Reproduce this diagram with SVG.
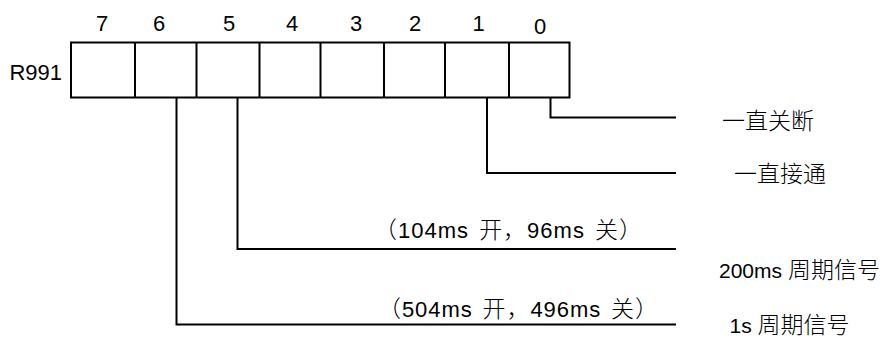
<svg xmlns="http://www.w3.org/2000/svg" width="892" height="338" viewBox="0 0 892 338">
<style>
  .ln { fill: none; stroke: #000; stroke-width: 2; }
  .t { font-family: "Liberation Sans", "Noto Sans CJK SC", sans-serif; font-size: 22px; fill: #000; }
  .s { font-family: "Liberation Sans", "Noto Sans CJK SC", sans-serif; font-size: 21px; fill: #000; }
  .p { font-size: 22px; word-spacing: 3px; }
  .c { font-family: "Noto Sans CJK SC", sans-serif; font-size: 23px; fill: #000; font-weight: 300; }
  .mid { text-anchor: middle; }
</style>
<rect width="892" height="338" fill="#fff"/>
<g id="register">
  <rect class="ln" x="71" y="42.5" width="498.5" height="55"/>
  <path class="ln" d="M135,42.5V97.5 M196.5,42.5V97.5 M259.5,42.5V97.5 M320.5,42.5V97.5 M384,42.5V97.5 M445,42.5V97.5 M509,42.5V97.5"/>
  <text class="t" x="62" y="80" text-anchor="end">R991</text>
  <text class="t mid" x="102" y="31">7</text>
  <text class="t mid" x="159" y="31">6</text>
  <text class="t mid" x="229" y="31">5</text>
  <text class="t mid" x="292" y="31">4</text>
  <text class="t mid" x="356" y="31">3</text>
  <text class="t mid" x="415" y="31">2</text>
  <text class="t mid" x="478.5" y="31">1</text>
  <text class="t mid" x="540" y="34">0</text>
</g>
<g id="connectors">
  <path class="ln" d="M550.5,97.5V117.5H676"/>
  <path class="ln" d="M487,97.5V173H676"/>
  <path class="ln" d="M237.5,97.5V249H676"/>
  <path class="ln" d="M176.5,97.5V324.5H676"/>
</g>
<g id="label-bit0">
  <text class="c" x="722" y="129">一直关断</text>
</g>
<g id="label-bit1">
  <text class="c" x="734" y="181.5">一直接通</text>
</g>
<g id="label-bit5">
  <text class="s p" x="374" y="238" textLength="268" lengthAdjust="spacing"><tspan class="c">（</tspan>104ms <tspan class="c">开，</tspan>96ms <tspan class="c">关）</tspan></text>
  <text class="s" x="719" y="278">200ms <tspan class="c">周期信号</tspan></text>
</g>
<g id="label-bit6">
  <text class="s p" x="378" y="317" textLength="280" lengthAdjust="spacing"><tspan class="c">（</tspan>504ms <tspan class="c">开，</tspan>496ms <tspan class="c">关）</tspan></text>
  <text class="s" x="729.5" y="332.5">1s <tspan class="c">周期信号</tspan></text>
</g>
</svg>
